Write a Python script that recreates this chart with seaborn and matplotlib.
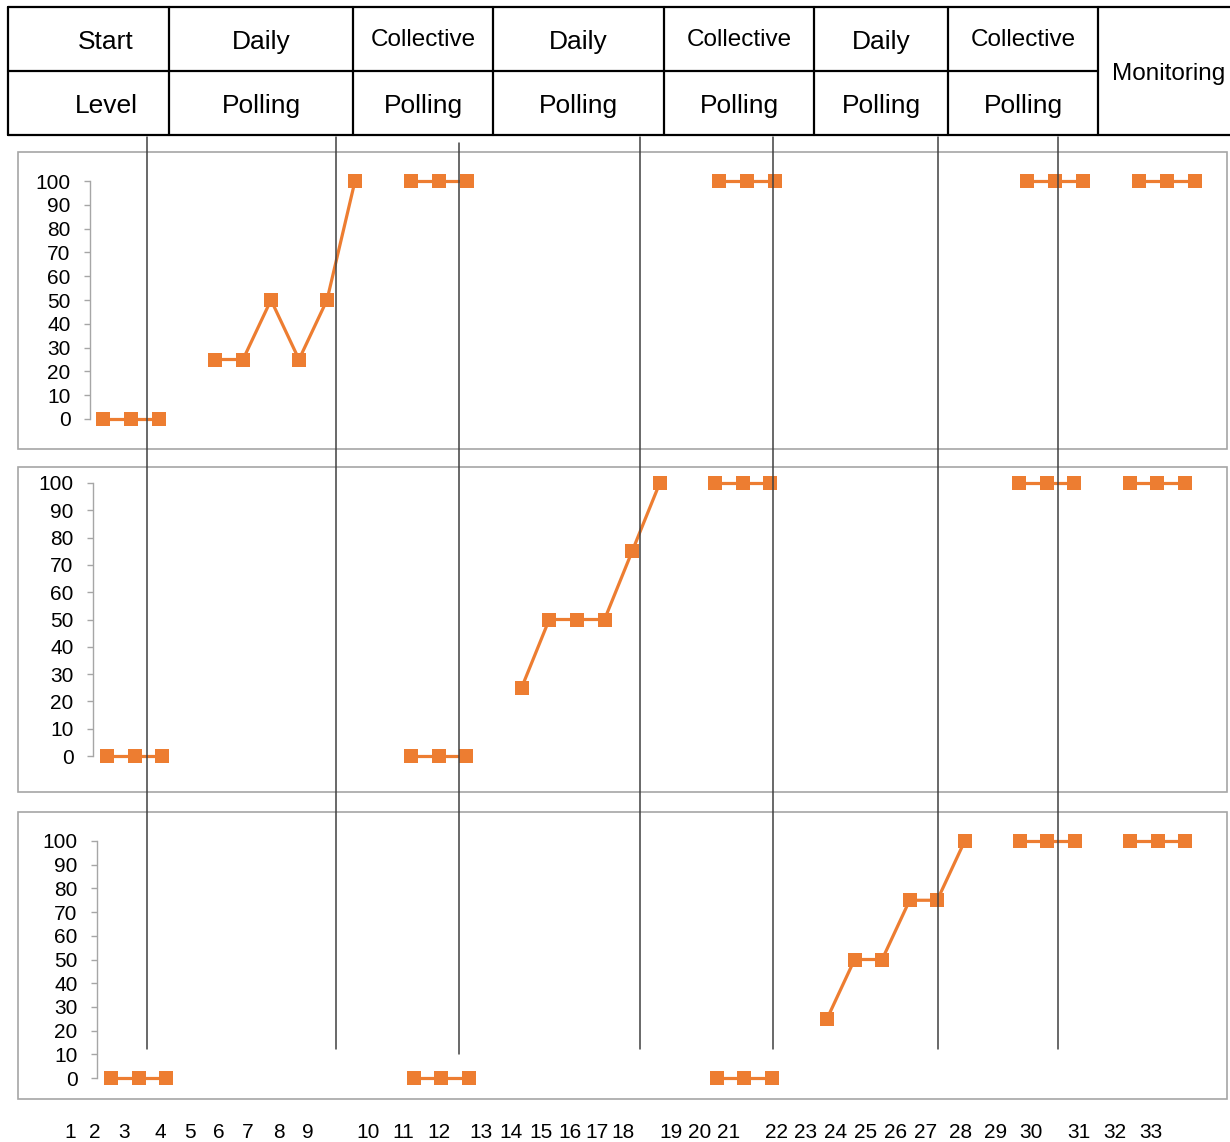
import numpy as np
import pandas as pd
import matplotlib
matplotlib.use("Agg")
import matplotlib.pyplot as plt
import seaborn as sns
from matplotlib.lines import Line2D
from matplotlib.patches import Rectangle

nan = np.nan

# ---------------- data ----------------
slots = list(range(40))
panel1 = [0, 0, 0, nan, 25, 25, 50, 25, 50, 100, nan, 100, 100, 100,
          nan, nan, nan, nan, nan, nan, nan, nan,
          100, 100, 100,
          nan, nan, nan, nan, nan, nan, nan, nan,
          100, 100, 100, nan, 100, 100, 100]
panel2 = [0, 0, 0, nan, nan, nan, nan, nan, nan, nan, nan, 0, 0, 0,
          nan, 25, 50, 50, 50, 75, 100, nan,
          100, 100, 100,
          nan, nan, nan, nan, nan, nan, nan, nan,
          100, 100, 100, nan, 100, 100, 100]
panel3 = [0, 0, 0, nan, nan, nan, nan, nan, nan, nan, nan, 0, 0, 0,
          nan, nan, nan, nan, nan, nan, nan, nan,
          0, 0, 0,
          nan, 25, 50, 50, 75, 75, 100, nan,
          100, 100, 100, nan, 100, 100, 100]

header_top = ["Start", "Daily", "Collective", "Daily", "Collective", "Daily", "Collective"]
header_bottom = ["Level", "Polling", "Polling", "Polling", "Polling", "Polling", "Polling"]
header_last = "Monitoring"

session_labels = ["1", "2", "3", "4", "5", "6", "7", "8", "9", "10", "11", "12",
                  "13", "14", "15", "16", "17", "18", "19", "20", "21", "22",
                  "23", "24", "25", "26", "27", "28", "29", "30", "31", "32", "33"]
y_ticks = [0, 10, 20, 30, 40, 50, 60, 70, 80, 90, 100]

# ---------------- layout (pixels) ----------------
W, H = 1230, 1142
ORANGE = "#ED7D31"
GRID_GRAY = "#a6a6a6"

def fx(px):
    return px / W

def fy(py):
    return 1 - py / H

panel_geom = [
    # spine_x, x_of_slot0, slot_spacing, y_of_100, y_of_0, box_top, box_bottom
    (90, 103, 28.0, 181, 419, 152, 449),
    (93, 107, 27.64, 483, 756, 467, 792),
    (97, 111, 27.54, 841, 1078, 812, 1099),
]
AX_RIGHT = 1215
BOX_L, BOX_R = 18, 1227

header_cols = [8, 169, 353, 493, 664, 814, 948, 1098]
header_text_x = [106, 261, 423, 578, 739, 881, 1023]
header_y = (7, 71, 135)

phase_lines = [(147, 137, 1049), (336, 137, 1049), (459, 143, 1054),
               (640, 137, 1049), (773, 137, 1049), (938, 137, 1049),
               (1058, 137, 1049)]

label_x = [70, 95, 124, 160, 190, 219, 248, 279, 308, 368, 403, 439,
           481, 511, 541, 570, 597, 623, 671, 700, 729, 777, 806, 836,
           866, 896, 926, 961, 996, 1031, 1079, 1115, 1151]
LABEL_Y = 1133

# ---------------- style ----------------
sns.set_style("white")
plt.rcParams["font.family"] = ["Liberation Sans", "DejaVu Sans"]
plt.rcParams["text.color"] = "black"
plt.rcParams["ytick.labelcolor"] = "black"

fig = plt.figure(figsize=(W / 100, H / 100), dpi=100)

for values, (sx, x0, dx, y100, y0, btop, bbot) in zip(
        [panel1, panel2, panel3], panel_geom):
    df = pd.DataFrame({"slot": slots, "value": values})
    df["segment"] = df["value"].isna().cumsum()
    df = df.dropna()

    ax = fig.add_axes([fx(sx), fy(y0), (AX_RIGHT - sx) / W, (y0 - y100) / H])
    sns.lineplot(data=df, x="slot", y="value", units="segment", estimator=None,
                 ax=ax, color=ORANGE, marker="s", markersize=10.5,
                 markeredgewidth=0, linewidth=2.3, legend=False)
    for ln in ax.lines:
        ln.set_clip_on(False)
    ax.set_xlim((sx - x0) / dx, (AX_RIGHT - x0) / dx)
    ax.set_ylim(0, 100)
    ax.set_yticks(y_ticks)
    ax.set_xticks([])
    ax.set_xlabel("")
    ax.set_ylabel("")
    ax.patch.set_alpha(0)
    for s in ["top", "right", "bottom"]:
        ax.spines[s].set_visible(False)
    ax.spines["left"].set_color(GRID_GRAY)
    ax.spines["left"].set_linewidth(1.0)
    ax.tick_params(axis="y", left=True, length=4, width=1.0, color=GRID_GRAY,
                   pad=10, labelsize=15, labelcolor="black")

    fig.patches.append(Rectangle((fx(BOX_L), fy(bbot)), (BOX_R - BOX_L) / W,
                                 (bbot - btop) / H, transform=fig.transFigure,
                                 fill=False, edgecolor=GRID_GRAY, linewidth=1.2,
                                 zorder=1))

# phase change lines
for x, t, b in phase_lines:
    fig.add_artist(Line2D([fx(x), fx(x)], [fy(t), fy(b)], transform=fig.transFigure,
                          color="#404040", linewidth=1.1, zorder=5))

# header table
LW = 1.6
top_y, mid_y, bot_y = header_y
fig.add_artist(Line2D([fx(8), fx(W)], [fy(top_y), fy(top_y)], color="black",
                      linewidth=LW, transform=fig.transFigure))
fig.add_artist(Line2D([fx(8), fx(header_cols[-1])], [fy(mid_y), fy(mid_y)],
                      color="black", linewidth=LW, transform=fig.transFigure))
fig.add_artist(Line2D([fx(8), fx(W)], [fy(bot_y), fy(bot_y)], color="black",
                      linewidth=LW, transform=fig.transFigure))
for cx in header_cols:
    fig.add_artist(Line2D([fx(cx), fx(cx)], [fy(top_y), fy(bot_y)], color="black",
                          linewidth=LW, transform=fig.transFigure))

for tx, t1, t2 in zip(header_text_x, header_top, header_bottom):
    if t1 == "Collective":
        fig.text(fx(tx), fy(40), t1, ha="center", va="center", fontsize=17.5)
    else:
        fig.text(fx(tx), fy(42), t1, ha="center", va="center", fontsize=19)
    fig.text(fx(tx), fy(106), t2, ha="center", va="center", fontsize=19)
fig.text(fx(1169), fy(74), header_last, ha="center", va="center", fontsize=17.5)

# session labels along bottom
for lx, lab in zip(label_x, session_labels):
    fig.text(fx(lx), fy(LABEL_Y), lab, ha="center", va="center", fontsize=15)

fig.savefig("out.png", dpi=100, facecolor="white")
